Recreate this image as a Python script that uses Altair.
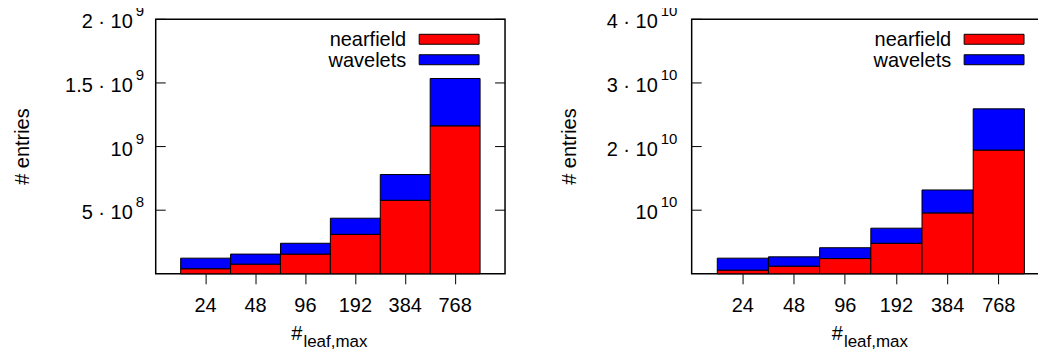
import altair as alt
import pandas as pd

# ---------------- data ----------------
categories = ["24", "48", "96", "192", "384", "768"]
series = ["nearfield", "wavelets"]
colors = ["#ff0000", "#0000ff"]

nearfield_a = [4.0e7, 7.6e7, 1.55e8, 3.1e8, 5.78e8, 1.163e9]
wavelets_a = [8.3e7, 7.9e7, 8.5e7, 1.27e8, 2.02e8, 3.72e8]
yticks_a = [5e8, 1e9, 1.5e9, 2e9]
ymain_a = ["5 · 10", "10", "1.5 · 10", "2 · 10"]
ysup_a = ["8", "9", "9", "9"]
ymax_a = 2e9

nearfield_b = [5.8e8, 1.2e9, 2.4e9, 4.8e9, 9.57e9, 1.945e10]
wavelets_b = [1.88e9, 1.47e9, 1.7e9, 2.37e9, 3.61e9, 6.48e9]
yticks_b = [1e10, 2e10, 3e10, 4e10]
ymain_b = ["10", "2 · 10", "3 · 10", "4 · 10"]
ysup_b = ["10", "10", "10", "10"]
ymax_b = 4e10

y_title = "# entries"
x_title_main = "#"
x_title_sub = "leaf,max"

FONT = "Liberation Sans"
FS = 20
H = 255


def panel(nearfield, wavelets, yticks, ymain, ysup, ymax, W, main_dx, sup_dx, ytitle_dx, anchors):
    rows = []
    for c, n, w in zip(categories, nearfield, wavelets):
        rows.append({"cat": c, "series": series[0], "y0": 0.0, "y1": n})
        rows.append({"cat": c, "series": series[1], "y0": n, "y1": n + w})
    bars_df = pd.DataFrame(rows)
    ticks_df = pd.DataFrame({"v": yticks, "main": ymain, "sup": ysup})

    yscale = alt.Scale(domain=[0, ymax], nice=False, zero=True)

    bars = alt.Chart(bars_df).mark_bar(stroke="black", strokeWidth=1).encode(
        x=alt.X("cat:O", sort=categories,
                scale=alt.Scale(paddingInner=0, paddingOuter=0.5),
                axis=alt.Axis(title=None, labelAngle=0, labelFont=FONT, labelFontSize=FS,
                              labelColor="black", tickSize=10, tickColor="black", tickWidth=1,
                              labelPadding=12, domain=False, grid=False)),
        y=alt.Y("y0:Q", scale=yscale,
                axis=alt.Axis(values=yticks, labels=False, ticks=False, domain=False,
                              grid=True, gridDash=[2, 3], gridColor="#777777",
                              gridWidth=1, title=None)),
        y2="y1:Q",
        color=alt.Color("series:N", scale=alt.Scale(domain=series, range=colors), legend=None),
    )

    tick_l = alt.Chart(ticks_df).mark_rule(color="black", strokeWidth=1).encode(
        y=alt.Y("v:Q", scale=yscale, axis=None), x=alt.value(0), x2=alt.value(10))
    tick_r = alt.Chart(ticks_df).mark_rule(color="black", strokeWidth=1).encode(
        y=alt.Y("v:Q", scale=yscale, axis=None), x=alt.value(W - 10), x2=alt.value(W))

    lab_main = alt.Chart(ticks_df).mark_text(
        align="right", baseline="alphabetic", dy=9, font=FONT, fontSize=FS, color="black"
    ).encode(y=alt.Y("v:Q", scale=yscale, axis=None), x=alt.value(main_dx), text="main:N")
    lab_sup = alt.Chart(ticks_df).mark_text(
        align="left", baseline="alphabetic", dy=-3, font=FONT, fontSize=15, color="black"
    ).encode(y=alt.Y("v:Q", scale=yscale, axis=None), x=alt.value(sup_dx), text="sup:N")

    ytitle = alt.Chart(pd.DataFrame({"t": [y_title]})).mark_text(
        angle=270, align="center", baseline="middle", font=FONT, fontSize=FS, color="black"
    ).encode(x=alt.value(ytitle_dx), y=alt.value(H / 2), text="t:N")

    xt_main = alt.Chart(pd.DataFrame({"t": [x_title_main]})).mark_text(
        align="right", baseline="alphabetic", font=FONT, fontSize=FS, color="black"
    ).encode(x=alt.value(W / 2 - 28), y=alt.value(H + 66), text="t:N")
    xt_sub = alt.Chart(pd.DataFrame({"t": [x_title_sub]})).mark_text(
        align="left", baseline="alphabetic", font=FONT, fontSize=17, color="black"
    ).encode(x=alt.value(W / 2 - 27), y=alt.value(H + 73), text="t:N")

    layers = [bars, tick_l, tick_r, lab_main, lab_sup, ytitle, xt_main, xt_sub]

    leg_df = pd.DataFrame({"series": series, "color": colors})
    for i, (s, col) in enumerate(zip(series, colors)):
        d = leg_df[leg_df["series"] == s]
        top = 15 + 20.5 * i
        layers.append(alt.Chart(d).mark_text(
            align="right", baseline="alphabetic", font=FONT, fontSize=FS, color="black"
        ).encode(x=alt.value(W - 99), y=alt.value(top + 12), text="series:N"))
        layers.append(alt.Chart(d).mark_rect(stroke="black", strokeWidth=1, color=col).encode(
            x=alt.value(W - 86), x2=alt.value(W - 26), y=alt.value(top), y2=alt.value(top + 10)))

    # invisible marks fixing the outer bounds of the drawing
    for (ax, ay) in anchors:
        layers.append(alt.Chart(leg_df).mark_rule(opacity=0).encode(
            x=alt.value(ax), x2=alt.value(ax + 1), y=alt.value(ay), y2=alt.value(ay + 1)))

    return alt.layer(*layers).properties(width=W, height=H)


left = panel(nearfield_a, wavelets_a, yticks_a, ymain_a, ysup_a, ymax_a, 350, -23, -20, -133,
             anchors=[(-147, -25), (-147, H + 99)])
right = panel(nearfield_b, wavelets_b, yticks_b, ymain_b, ysup_b, ymax_b, 359, -34, -31, -122,
              anchors=[(368, 0)])

# plot left at 155, top at 18; right part clipped so that the page is 1046 wide
chart = alt.hconcat(left, right, spacing=187, bounds="flush").configure_view(
    stroke="black", strokeWidth=1.5
).properties(padding={"left": 0, "top": -15, "right": -23, "bottom": -22})

chart.save("out.html", embed_options={"renderer": "svg", "actions": False})
